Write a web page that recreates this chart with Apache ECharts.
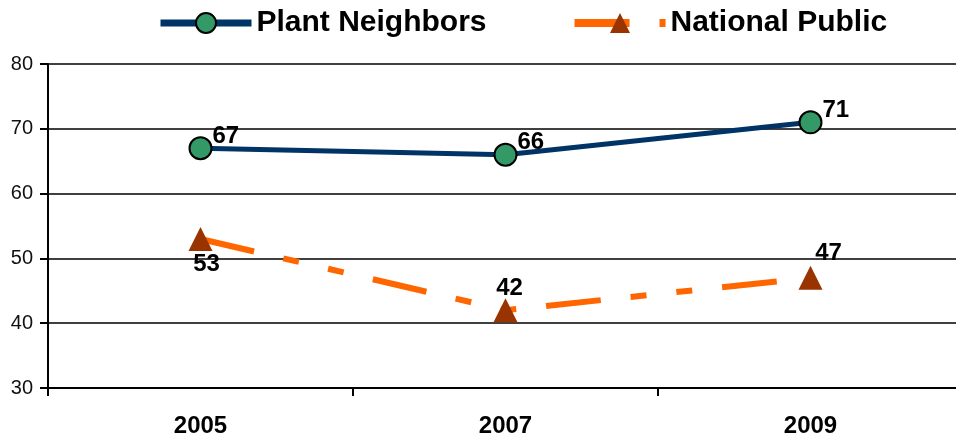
<!DOCTYPE html>
<html>
<head>
<meta charset="utf-8">
<script src="https://cdn.jsdelivr.net/npm/echarts@6/dist/echarts.min.js"></script>
<style>
  html, body { margin: 0; padding: 0; background: #fff; overflow: hidden; }
  #chart { width: 963px; height: 444px; }
</style>
</head>
<body>
<div id="chart"></div>
<script>
var years = ['2005', '2007', '2009'];
var plantNeighbors = [67, 66, 71];
var nationalPublic = [53, 42, 47];
var yTicks = [30, 40, 50, 60, 70, 80];

// label placement for the orange series (below first point, above the rest)
var npLabelPos = ['bottom', 'top', 'top'];
var npLabelOffset = [[6, 1], [4, 2], [18, 0]];

var chart = echarts.init(document.getElementById('chart'));
chart.setOption({
  animation: false,
  textStyle: { fontFamily: 'Liberation Sans, Arial, sans-serif' },
  legend: {
    left: 152,
    top: 3,
    itemWidth: 91,
    itemHeight: 25,
    itemGap: 84,
    textStyle: { fontSize: 30, fontWeight: 'bold', color: '#000' },
    data: [
      { name: 'Plant Neighbors', lineStyle: { width: 7 } },
      { name: 'National Public', lineStyle: { width: 8 } }
    ]
  },
  grid: { left: 48, right: 0, top: 64, bottom: 56 },
  xAxis: {
    type: 'category',
    data: years,
    boundaryGap: true,
    axisLine: { lineStyle: { color: '#000', width: 2 } },
    axisTick: { show: true, length: 8, lineStyle: { color: '#000', width: 2 } },
    axisLabel: { margin: 26, fontSize: 24, fontWeight: 'bold', color: '#000' }
  },
  yAxis: {
    type: 'value',
    min: yTicks[0],
    max: yTicks[yTicks.length - 1],
    interval: 10,
    axisLine: { show: true, lineStyle: { color: '#000', width: 2 } },
    axisTick: { show: true, length: 8, lineStyle: { color: '#000', width: 2 } },
    axisLabel: { margin: 15, fontSize: 20, color: '#111' },
    splitLine: { lineStyle: { color: '#000', width: 1.5 } }
  },
  series: [
    {
      name: 'Plant Neighbors',
      type: 'line',
      data: plantNeighbors,
      symbol: 'circle',
      symbolSize: 22,
      lineStyle: { color: '#003366', width: 5 },
      itemStyle: { color: '#339966', borderColor: '#000', borderWidth: 2 },
      label: {
        show: true,
        position: 'right',
        distance: 0,
        offset: [0, -12],
        fontSize: 24,
        fontWeight: 'bold',
        color: '#000'
      },
      z: 3
    },
    {
      name: 'National Public',
      type: 'line',
      data: nationalPublic.map(function (v, i) {
        return {
          value: v,
          label: { position: npLabelPos[i], offset: npLabelOffset[i] }
        };
      }),
      symbol: 'triangle',
      symbolSize: 24,
      lineStyle: { color: '#FF6600', width: 6, type: [55, 30, 16, 30, 16, 30] },
      itemStyle: { color: '#993300', borderWidth: 0 },
      label: {
        show: true,
        distance: 0,
        fontSize: 24,
        fontWeight: 'bold',
        color: '#000'
      },
      z: 2
    }
  ]
});
</script>
</body>
</html>
